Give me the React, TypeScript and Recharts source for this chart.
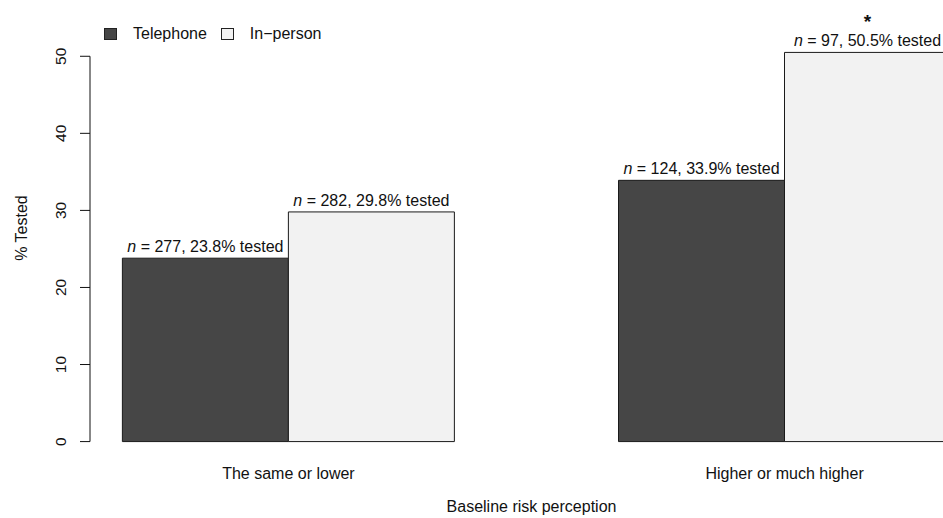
import React from "react";
import {
  BarChart,
  Bar,
  XAxis,
  YAxis,
  Legend,
  LabelList,
  ReferenceLine,
} from "recharts";

const categories = ["The same or lower", "Higher or much higher"];
const telephonePct = [23.8, 33.9];
const inPersonPct = [29.8, 50.5];
const telephoneN = [277, 124];
const inPersonN = [282, 97];
const inPersonSig = ["", "*"];
const yTicks = [0, 10, 20, 30, 40, 50];

const FONT = "'Liberation Sans', Arial, Helvetica, sans-serif";
const DARK = "#464646";
const LIGHT = "#f2f2f2";
const INK = "#111111";

const data = categories.map((c, i) => ({
  idx: i,
  category: c,
  telephone: telephonePct[i],
  inPerson: inPersonPct[i],
}));

const legendItems = [
  { name: "Telephone", fill: DARK },
  { name: "In\u2212person", fill: LIGHT },
];

function makeBarLabel(counts: number[], marks?: string[]) {
  return (props: any) => {
    const vb = props.viewBox || {};
    const x = props.x ?? vb.x;
    const y = props.y ?? vb.y;
    const width = props.width ?? vb.width;
    const i = props.index;
    const v = Number(props.value);
    const cx = x + width / 2;
    const mark = marks ? marks[i] : "";
    return (
      <g>
        <text
          x={cx}
          y={y - 6}
          textAnchor="middle"
          fontFamily={FONT}
          fontSize={16}
          fill={INK}
        >
          <tspan fontStyle="italic">n</tspan>
          {` = ${counts[i]}, ${v.toFixed(1)}% tested`}
        </text>
        {mark ? (
          <text
            x={cx}
            y={y - 24}
            textAnchor="middle"
            fontFamily={FONT}
            fontSize={19}
            fontWeight="bold"
            fill={INK}
          >
            {mark}
          </text>
        ) : null}
      </g>
    );
  };
}

function YTick(props: any) {
  const { x, y, payload } = props;
  return (
    <text
      transform={`translate(${x},${y}) rotate(-90)`}
      textAnchor="middle"
      fontFamily={FONT}
      fontSize={15.5}
      fill={INK}
    >
      {payload.value}
    </text>
  );
}

function YLabel(props: any) {
  const vb = props.viewBox || {};
  const cy = vb.y + vb.height / 2 - 19;
  return (
    <text
      transform={`translate(${vb.x + 27},${cy}) rotate(-90)`}
      textAnchor="middle"
      fontFamily={FONT}
      fontSize={16}
      fill={INK}
    >
      % Tested
    </text>
  );
}

function LegendBox() {
  return (
    <div
      style={{
        display: "flex",
        alignItems: "center",
        fontFamily: FONT,
        fontSize: 16,
        color: INK,
        lineHeight: "18px",
        whiteSpace: "nowrap",
      }}
    >
      {legendItems.map((it) => (
        <React.Fragment key={it.name}>
          <span
            style={{
              display: "inline-block",
              width: 11,
              height: 10,
              background: it.fill,
              border: "1px solid #222",
              marginRight: 16,
            }}
          />
          <span style={{ marginRight: 14 }}>{it.name}</span>
        </React.Fragment>
      ))}
    </div>
  );
}

export default function App() {
  return (
    <div
      style={{
        position: "fixed",
        top: 0,
        left: 0,
        width: 943,
        height: 518,
        overflow: "hidden",
        background: "#fff",
      }}
    >
      <BarChart
        width={983}
        height={518}
        data={data}
        margin={{ top: 37, right: 0, left: 0, bottom: 0 }}
        barGap={0}
      >
        <XAxis
          dataKey="idx"
          type="number"
          domain={[-0.4, 1.4]}
          ticks={[0, 1]}
          tickFormatter={(v: number) => categories[v] ?? ""}
          axisLine={false}
          tickLine={false}
          tickSize={0}
          tickMargin={11}
          height={61}
          tick={{ fontFamily: FONT, fontSize: 16, fill: INK }}
          label={{
            value: "Baseline risk perception",
            position: "insideBottom",
            offset: 6,
            dx: -5,
            fontFamily: FONT,
            fontSize: 16,
            fill: INK,
          }}
        />
        <YAxis
          type="number"
          domain={[-2, 52.5]}
          ticks={yTicks}
          width={90}
          axisLine={false}
          tickLine={{ stroke: INK }}
          tickSize={10}
          tickMargin={14}
          tick={<YTick />}
          label={<YLabel />}
        />
        <ReferenceLine
          segment={[
            { x: -0.4, y: 0 },
            { x: -0.4, y: 50 },
          ]}
          stroke={INK}
          strokeWidth={1}
          ifOverflow="visible"
        />
        <Legend
          layout="vertical"
          align="center"
          verticalAlign="middle"
          content={() => <LegendBox />}
          wrapperStyle={{ top: 25, left: 104, width: "auto", height: 18 }}
        />
        <Bar
          dataKey="telephone"
          name="Telephone"
          fill={DARK}
          stroke="#1a1a1a"
          strokeWidth={1}
          barSize={166}
          isAnimationActive={false}
        >
          <LabelList dataKey="telephone" content={makeBarLabel(telephoneN)} />
        </Bar>
        <Bar
          dataKey="inPerson"
          name="In-person"
          fill={LIGHT}
          stroke="#1a1a1a"
          strokeWidth={1}
          barSize={166}
          isAnimationActive={false}
        >
          <LabelList
            dataKey="inPerson"
            content={makeBarLabel(inPersonN, inPersonSig)}
          />
        </Bar>
      </BarChart>
    </div>
  );
}
